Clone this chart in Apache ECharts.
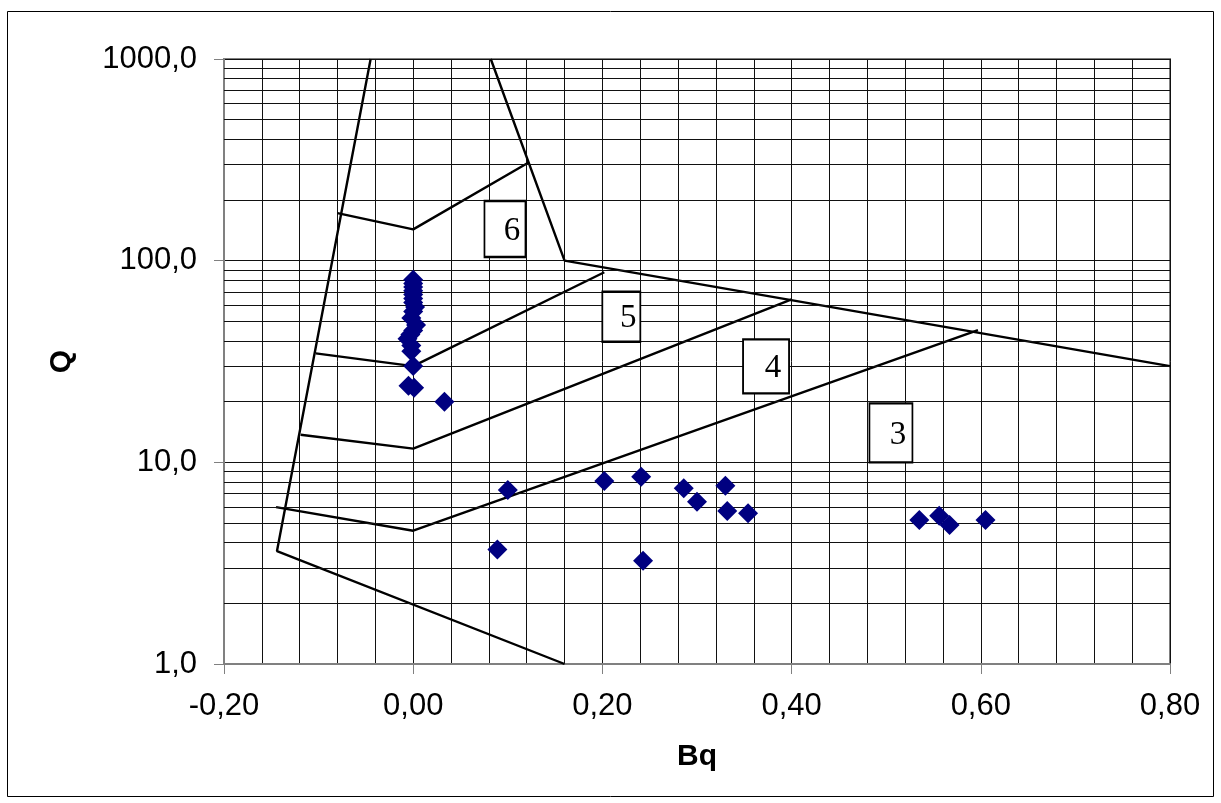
<!DOCTYPE html>
<html>
<head>
<meta charset="utf-8">
<title>Q – Bq</title>
<script src="https://cdn.jsdelivr.net/npm/echarts@6/dist/echarts.min.js"></script>
<style>
  html, body { margin: 0; padding: 0; background: #fff; }
  #chart { width: 1221px; height: 803px; }
</style>
</head>
<body>
<div id="chart"></div>
<script>
// Measured points (Bq, Q)
const scatterBq = [0.000, 0.000, 0.000, 0.000, 0.000, 0.000, 0.000, 0.002, 0.000, -0.002,
                   0.003, 0.000, -0.003, -0.006, -0.002, -0.002, 0.000, -0.005, 0.001,
                   0.033, 0.100, 0.089, 0.202, 0.241, 0.243, 0.286, 0.300, 0.330, 0.332,
                   0.354, 0.535, 0.556, 0.567, 0.605];
const scatterQ  = [80.5, 77, 74, 71, 68, 65, 62, 59, 56, 52,
                   48, 45, 43, 41, 38, 35.5, 30, 24, 23.4,
                   20.0, 7.29, 3.70, 8.08, 8.49, 3.25, 7.43, 6.38, 7.66, 5.74,
                   5.59, 5.18, 5.44, 4.89, 5.18];

// Zone boundaries, each as [Bq, Q] vertices
const leftBoundary  = [[-0.045, 1000], [-0.144, 3.63], [0.160, 1.0]];
const rightBoundary = [[0.082, 1000], [0.160, 100], [0.800, 30]];
const zone6Line = [[-0.080, 172], [0.000, 143], [0.122, 307]];
const zone5Line = [[-0.103, 34.7], [0.000, 30.0], [0.202, 87.6]];
const zone4Line = [[-0.119, 13.7], [0.000, 11.7], [0.400, 64.3]];
const zone3Line = [[-0.145, 6.0], [0.000, 4.58], [0.597, 45.3]];

// Zone number labels
const zoneNames = ['6', '5', '4', '3'];
const zoneBq    = [0.097, 0.220, 0.373, 0.505];
const zoneQ     = [143.6, 52.7, 29.9, 14.0];
const zoneBox   = [[41, 56], [38, 50], [46, 54], [43, 59]];

// Log-axis tick labels and intermediate grid values
const yTicks = [1, 10, 100, 1000];
const minorQ = [];
[1, 10, 100].forEach(function (d) {
  for (let k = 2; k <= 9; k++) minorQ.push(k * d);
});

const gridColor = '#111';
const axisColor = '#808080';
const sansFont = '"Liberation Sans", Arial, sans-serif';

function commaNum(v, digits) {
  return v.toFixed(digits).replace('.', ',');
}

const lineSets = [leftBoundary, rightBoundary, zone6Line, zone5Line, zone4Line, zone3Line];
const lineSeries = lineSets.map(function (pts) {
  return {
    type: 'line',
    data: pts,
    symbol: 'none',
    silent: true,
    z: 3,
    lineStyle: { color: '#000', width: 2.4 }
  };
});

const chart = echarts.init(document.getElementById('chart'), null, { renderer: 'canvas' });

chart.setOption({
  animation: false,
  backgroundColor: '#fff',
  graphic: [{
    type: 'rect',
    shape: { x: 7.5, y: 11.5, width: 1206, height: 785 },
    style: { fill: 'none', stroke: '#000', lineWidth: 1 },
    silent: true,
    z: 0
  }],
  grid: {
    left: 224, right: 51, top: 59, bottom: 139,
    show: true,
    borderColor: axisColor,
    borderWidth: 2,
    backgroundColor: 'transparent'
  },
  xAxis: {
    type: 'value',
    min: -0.2, max: 0.8, interval: 0.2,
    name: 'Bq',
    nameLocation: 'middle',
    nameGap: 78,
    nameTextStyle: { fontFamily: sansFont, fontSize: 30, fontWeight: 'bold', color: '#000' },
    axisLine: { show: true, onZero: false, lineStyle: { color: axisColor, width: 2 } },
    axisTick: { show: true, inside: false, length: 10, lineStyle: { color: axisColor, width: 1 } },
    axisLabel: {
      margin: 27,
      fontFamily: sansFont, fontSize: 31, color: '#000',
      formatter: function (v) { return commaNum(v, 2); }
    },
    splitLine: { show: true, lineStyle: { color: gridColor, width: 1 } },
    minorTick: { show: false, splitNumber: 5 },
    minorSplitLine: { show: true, lineStyle: { color: gridColor, width: 1 } }
  },
  yAxis: {
    type: 'log',
    logBase: 10,
    min: yTicks[0], max: yTicks[yTicks.length - 1],
    name: 'Q',
    nameLocation: 'middle',
    nameGap: 147,
    nameRotate: 90,
    nameTextStyle: { fontFamily: sansFont, fontSize: 30, fontWeight: 'bold', color: '#000' },
    axisLine: { show: true, onZero: false, lineStyle: { color: axisColor, width: 2 } },
    axisTick: { show: true, inside: false, length: 10, lineStyle: { color: axisColor, width: 1 } },
    axisLabel: {
      margin: 27,
      fontFamily: sansFont, fontSize: 31, color: '#000',
      formatter: function (v) { return commaNum(v, 1); }
    },
    splitLine: { show: true, lineStyle: { color: gridColor, width: 1 } }
  },
  series: [
    {
      // intermediate horizontal grid lines of the log scale
      type: 'line',
      data: [],
      silent: true,
      z: 1,
      markLine: {
        silent: true,
        symbol: ['none', 'none'],
        label: { show: false },
        lineStyle: { color: gridColor, width: 1, type: 'solid', opacity: 1 },
        data: minorQ.map(function (q) { return { yAxis: q }; })
      }
    }
  ].concat(lineSeries).concat([
    {
      type: 'scatter',
      symbol: 'diamond',
      symbolSize: 20,
      z: 5,
      itemStyle: { color: '#000080', opacity: 1 },
      data: scatterBq.map(function (b, i) { return [b, scatterQ[i]]; })
    },
    {
      type: 'scatter',
      symbol: 'rect',
      silent: true,
      z: 6,
      itemStyle: { color: '#fff', borderColor: '#000', borderWidth: 2, opacity: 1 },
      label: {
        show: true,
        position: 'inside',
        offset: [7, 2],
        fontFamily: '"Liberation Serif", "Times New Roman", serif',
        fontSize: 33,
        color: '#000',
        formatter: function (p) { return p.name; }
      },
      data: zoneNames.map(function (n, i) {
        return { name: n, value: [zoneBq[i], zoneQ[i]], symbolSize: zoneBox[i] };
      })
    }
  ])
});
</script>
</body>
</html>
